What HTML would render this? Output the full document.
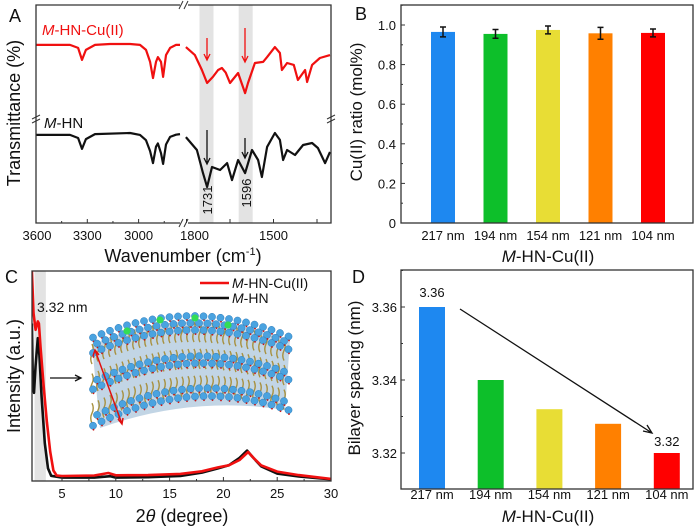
<!DOCTYPE html>
<html><head><meta charset="utf-8"><style>
html,body{margin:0;padding:0;background:#fff}
svg{display:block;font-family:"Liberation Sans",Arial,sans-serif}
</style></head><body>
<svg id="fig" width="700" height="532" viewBox="0 0 700 532" xmlns="http://www.w3.org/2000/svg">
<g id="pa"></g>
<g id="pb"></g>
<g id="pc"></g>
<g id="pd"></g>
</svg>
<script>
// ---------- Panel A data ----------
const redLeftW=[3600,3401,3354,3331,3308,3255,3167,3050,2992,2957,2933,2916,2898,2887,2869,2857,2840,2816,2781,2758];
const redLeftT=[81.7,81.7,80.3,74.8,79.4,81.7,82.1,82.1,81.7,79.4,73.9,66.5,73.9,76.1,73.9,67,77,80.3,81.7,81.7];
const redRightW=[1802,1771,1747,1729,1709,1691,1678,1665,1650,1622,1598,1588,1564,1536,1522,1495,1478,1471,1453,1430,1416,1391,1384,1367,1340,1305];
const redRightT=[80.7,77,70.2,64.2,67,70.2,71.1,69,64.2,68.8,59.6,64.2,73.4,73.9,76.1,80.7,78,70.2,73.4,72.5,65.6,70.2,64.7,72.5,75.7,77];
const blackLeftW=[3600,3401,3354,3331,3308,3255,3050,2992,2957,2933,2916,2898,2887,2869,2857,2840,2816,2781,2758];
const blackLeftT=[40.4,40.4,39,34,38.5,40.8,41.3,40.4,38,33,27.5,35,36.5,32,27.1,36,39.5,40.5,40.8];
const blackRightW=[1802,1764,1743,1729,1712,1684,1660,1643,1622,1598,1574,1553,1540,1522,1495,1478,1467,1453,1426,1398,1367,1347,1322,1305];
const blackRightT=[39.4,33.5,22.9,16.5,25.7,24.3,27.5,19.7,28.9,22.9,33.5,28.9,21.1,34.9,41.3,38.1,28.9,33.5,31.2,35.8,36.7,34.4,27.5,32.6];
const ftirLeftTicks=[3600,3300,3000];
const ftirRightTicks=[1800,1500];
// ---------- Panel B data ----------
const bCats=["217 nm","194 nm","154 nm","121 nm","104 nm"];
const bVals=[0.965,0.955,0.975,0.958,0.96];
const bErr=[0.025,0.022,0.02,0.03,0.02];
const bTicks=[0,0.2,0.4,0.6,0.8,1.0];
const bTickLabels=["0","0.2","0.4","0.6","0.8","1.0"];
// ---------- Panel C data ----------
const redXrdX=[2.2,2.35,2.55,2.75,2.85,3.0,3.3,3.6,3.9,4.2,4.5,5,8,9.3,10,13,16,18,19.5,20.5,21.5,22.3,22.8,23.5,25,27,30];
const redXrdY=[100,80,72,76,75,64,45,28,14,5,2.6,2.4,2.6,3.8,2.7,2.8,3.4,4.6,6.5,7.5,10,13.8,11,7.5,4.5,2.8,1.0];
const blackXrdX=[2.2,2.3,2.4,2.55,2.75,2.9,3.1,3.4,3.7,4.0,5,8,9.5,10,13,16,18,19.5,20.5,21.5,22.2,22.7,23.5,25,27,30];
const blackXrdY=[75,45,42,55,68,60,40,18,6,2.5,1.6,1.6,2.3,1.6,1.8,2.4,4,6,7.5,11,14.5,11.5,7,3.5,2.2,0.8];
const cTicks=[5,10,15,20,25,30];
// ---------- Panel D data ----------
const dCats=["217 nm","194 nm","154 nm","121 nm","104 nm"];
const dVals=[3.36,3.34,3.332,3.328,3.32];
const dTicks=[3.32,3.34,3.36];
const dTickLabels=["3.32","3.34","3.36"];
const colors=["#1e88f0","#0dbf2a","#e8dd35","#ff8000","#ff0000"];

const NS="http://www.w3.org/2000/svg";
function mk(parent,tag,attrs,text){const e=document.createElementNS(NS,tag);for(const k in attrs)e.setAttribute(k,attrs[k]);if(text!==undefined)e.textContent=text;parent.appendChild(e);return e;}
function txt(p,x,y,s,size,anchor,name,extra){const e=mk(p,'text',Object.assign({x:x,y:y,'font-size':size,'text-anchor':anchor||'middle',fill:'#111'},extra||{}),s);


return e;}
function italM(p,x,y,rest,size,anchor,name,fill){const e=mk(p,'text',{x:x,y:y,'font-size':size,'text-anchor':anchor||'start',fill:fill||'#111'});
mk(e,'tspan',{'font-style':'italic'},'M');mk(e,'tspan',{},rest);


return e;}

// ===== Panel A =====
(function(){
const g=document.getElementById('pa');
const L0=36,Lb=182,R0=186,R1=331,T=5,B=223;
const xl=w=>36+(3600-w)*0.171;
const xr=w=>186.5+(1800-w)*0.29;
const y=t=>B-t*2.18;
[[1731,'band-1731'],[1596,'band-1596']].forEach(([w,n])=>{const r=mk(g,'rect',{x:xr(w)-7,y:T,width:14,height:B-T,fill:'#e3e3e3'});

});
function line(W,Tv,xf,col,name){const d=W.map((w,i)=>(i?'L':'M')+xf(w).toFixed(1)+','+y(Tv[i]).toFixed(1)).join(' ');
const p=mk(g,'path',{d:d,fill:'none',stroke:col,'stroke-width':2.2,'stroke-linejoin':'round'});

}
line(redLeftW,redLeftT,xl,'#f01010','red-line-left');
line(redRightW,redRightT,xr,'#f01010','red-line-right');
line(blackLeftW,blackLeftT,xl,'#111','black-line-left');
line(blackRightW,blackRightT,xr,'#111','black-line-right');
mk(g,'path',{d:`M${Lb-2},${T} H${L0} V${B} H${Lb-2} M${R0+2},${T} H${R1} V${B} H${R0+2}`,fill:'none',stroke:'#333','stroke-width':1.3});
mk(g,'path',{d:`M${Lb-3},${T+4} L${Lb+1},${T-4} M${Lb+2},${T+4} L${Lb+6},${T-4} M${Lb-3},${B+4} L${Lb+1},${B-4} M${Lb+2},${B+4} L${Lb+6},${B-4}`,stroke:'#333','stroke-width':1});
mk(g,'path',{d:`M${L0-4},${119} L${L0+4},${115} M${L0-4},${123} L${L0+4},${119} M${R1-4},${119} L${R1+4},${115} M${R1-4},${123} L${R1+4},${119}`,stroke:'#333','stroke-width':1});
for(let w=3600;w>=2800;w-=150){mk(g,'line',{x1:xl(w),x2:xl(w),y1:B,y2:B-(w%300===0?4:2),stroke:'#333'});}
for(let w=1800;w>=1300;w-=150){mk(g,'line',{x1:xr(w),x2:xr(w),y1:B,y2:B-4,stroke:'#333'});}
ftirLeftTicks.forEach(w=>txt(g,xl(w)+(w===3600?1:0),240,w,13,'middle','x-tick-'+w));
ftirRightTicks.forEach(w=>txt(g,xr(w)+8*(w===1800?1:0),240,w,13,'middle','x-tick-'+w));
const xt=mk(g,'text',{x:183,y:262,'font-size':18,'text-anchor':'middle',fill:'#111'});mk(xt,'tspan',{},'Wavenumber (cm');mk(xt,'tspan',{'font-size':11,dy:-7},'-1');mk(xt,'tspan',{dy:7},')');


txt(g,0,0,'Transmittance (%)',18,'middle','y-axis-title',{transform:'translate(20,113) rotate(-90)'});
txt(g,9,22,'A',18,'start','panel-label-a');
italM(g,42,35,'-HN-Cu(II)',15,'start','label-m-hn-cu','#f01010');
italM(g,44,128,'-HN',15,'start','label-m-hn');
function arrow(x,y1,y2,col,name){const a=mk(g,'path',{d:`M${x},${y1} V${y2} M${x-3},${y2-6} L${x},${y2} L${x+3},${y2-6}`,stroke:col,fill:'none','stroke-width':1.3});

}
arrow(207,38,60,'#f01010','red-arrow-1731');arrow(245,28,62,'#f01010','red-arrow-1596');
arrow(207,130,164,'#111','black-arrow-1731');arrow(245,138,158,'#111','black-arrow-1596');
txt(g,0,0,'1731',13,'middle','label-1731',{transform:'translate(212,200) rotate(-90)'});
txt(g,0,0,'1596',13,'middle','label-1596',{transform:'translate(251,193) rotate(-90)'});
})();

// ===== Panel B =====
(function(){
const g=document.getElementById('pb');
const L=401,R=693,T=5,B=223;
const y=v=>B-v*198;
const bw=24,x0=443,dx=52.5;
bVals.forEach((v,i)=>{const cx=x0+i*dx;
const r=mk(g,'rect',{x:cx-bw/2,y:y(v),width:bw,height:B-y(v),fill:colors[i]});


const e=mk(g,'path',{d:`M${cx},${y(v+bErr[i])} V${y(v-bErr[i])} M${cx-3},${y(v+bErr[i])} H${cx+3} M${cx-3},${y(v-bErr[i])} H${cx+3}`,stroke:'#111','stroke-width':1.5});


txt(g,cx,240,bCats[i],13,'middle','x-tick-'+i);});
mk(g,'rect',{x:L,y:T,width:R-L,height:B-T,fill:'none',stroke:'#333','stroke-width':1.3});
bTicks.forEach((v,i)=>{mk(g,'line',{x1:L,x2:L+4,y1:y(v),y2:y(v),stroke:'#333'});mk(g,'line',{x1:L,x2:L+2,y1:y(v+0.1),y2:y(v+0.1),stroke:'#333'});
txt(g,396,y(v)+5,bTickLabels[i],13,'end','y-tick-'+i);});
italM(g,548,262,'-HN-Cu(II)',17,'middle','x-axis-title');
txt(g,0,0,'Cu(II) ratio (mol%)',17,'middle','y-axis-title',{transform:'translate(362,112) rotate(-90)'});
txt(g,355,20,'B',18,'start','panel-label-b');
})();

// ===== Panel C =====
(function(){
const g=document.getElementById('pc');
const L=32,R=331,T=271,B=481;
const x=v=>8.2+v*10.76;
const y=I=>B-I*2.1;
mk(g,'rect',{x:x(2.45),y:T,width:x(3.5)-x(2.45),height:B-T,fill:'#e3e3e3'});
mk(g,'clipPath',{id:'cclip'});
mk(g.lastChild,'rect',{x:L,y:T,width:R-L,height:B-T});
function line(X,Y,col,name){const d=X.map((v,i)=>(i?'L':'M')+x(v).toFixed(1)+','+y(Y[i]).toFixed(1)).join(' ');
const p=mk(g,'path',{d:d,fill:'none',stroke:col,'stroke-width':2.6,'clip-path':'url(#cclip)','stroke-linejoin':'round'});

}
line(blackXrdX,blackXrdY,'#111','m-hn-line');
line(redXrdX,redXrdY,'#f01010','m-hn-cu-line');
mk(g,'rect',{x:L,y:T,width:R-L,height:B-T,fill:'none',stroke:'#333','stroke-width':1.3});
for(let v=5;v<=30;v+=2.5){mk(g,'line',{x1:x(v),x2:x(v),y1:B,y2:B-(v%5===0?4:2),stroke:'#333'});}
cTicks.forEach(v=>txt(g,x(v),498,v,13,'middle','x-tick-'+v));
const xt=mk(g,'text',{x:182,y:522,'font-size':18,'text-anchor':'middle',fill:'#111'});mk(xt,'tspan',{},'2');mk(xt,'tspan',{'font-style':'italic'},'θ');mk(xt,'tspan',{},' (degree)');


txt(g,0,0,'Intensity (a.u.)',18,'middle','y-axis-title',{transform:'translate(20,376) rotate(-90)'});
txt(g,5,283,'C',18,'start','panel-label-c');
txt(g,37,312,'3.32 nm',14,'start','annotation-3-32nm');
const lg=mk(g,'g',{});


mk(lg,'line',{x1:200,x2:229,y1:283,y2:283,stroke:'#f01010','stroke-width':2.5});
italM(lg,232,288,'-HN-Cu(II)',14,'start','legend-entry-m-hn-cu');
mk(lg,'line',{x1:200,x2:229,y1:298,y2:298,stroke:'#111','stroke-width':2.5});
italM(lg,232,303,'-HN',14,'start','legend-entry-m-hn');
mk(g,'path',{d:'M50,378 H81 M75,375 L81,378 L75,381',stroke:'#111',fill:'none','stroke-width':1.3});
// inset bilayer illustration
const ins=mk(g,'g',{});


const topY=c=>316+Math.pow((c-192)/100,2)*22;
const botY=c=>topY(c)+95-(c-90)*0.08;
// background body
mk(ins,'path',{d:'M92,345 Q192,300 290,340 L285,410 Q192,395 100,428 Z',fill:'#4f87b4',opacity:0.35});
// tails
for(let cx=92;cx<=288;cx+=6){
  const t=topY(cx),b=botY(cx);
  for(let k=0;k<3;k++){
    const y0=t+6+k*((b-t-6)/3);
    mk(ins,'path',{d:`M${cx},${y0} q2.5,5 0,10 q-2.5,5 0,10`,stroke:'#a8913f',fill:'none','stroke-width':1.4});
  }
}
// spheres (several leaflets)
const leaf=[0,7,14,40,47,72,80];
leaf.forEach((off,li)=>{
  for(let cx=93+(li%2)*4;cx<=289;cx+=8.5){
    const ty=topY(cx)+off*(botY(cx)-topY(cx))/86;
    mk(ins,'circle',{cx:cx,cy:ty,r:3.6,fill:'#4aa3e0',stroke:'#2f7dbb','stroke-width':0.5});
    mk(ins,'circle',{cx:cx+0.5,cy:ty+4,r:0.9,fill:'#c81818'});
  }
});
[[127,331],[160,320],[195,318],[228,325]].forEach(([a,b])=>mk(ins,'circle',{cx:a,cy:b,r:3.6,fill:'#33dd55'}));
mk(ins,'path',{d:'M95,350 L122,424 M93,356 L95,350 L99,355 M118,419 L122,424 L123,418',stroke:'#e01010',fill:'none','stroke-width':1.5});
})();

// ===== Panel D =====
(function(){
const g=document.getElementById('pd');
const L=401,R=693,T=270,B=489;
const y=v=>307+(3.36-v)*3650;
const bw=26,x0=432,dx=58.7;
dVals.forEach((v,i)=>{const cx=x0+i*dx;
const r=mk(g,'rect',{x:cx-bw/2,y:y(v),width:bw,height:B-y(v),fill:colors[i]});


txt(g,cx,499,dCats[i],13,'middle','x-tick-'+i);});
txt(g,x0,297,dVals[0].toFixed(2),13,'middle','value-label-first');
txt(g,x0+4*dx,446,dVals[4].toFixed(2),13,'middle','value-label-last');
mk(g,'rect',{x:L,y:T,width:R-L,height:B-T,fill:'none',stroke:'#333','stroke-width':1.3});
dTicks.forEach((v,i)=>{mk(g,'line',{x1:L,x2:L+4,y1:y(v),y2:y(v),stroke:'#333'});mk(g,'line',{x1:L,x2:L+2,y1:y(v+0.01),y2:y(v+0.01),stroke:'#333'});
txt(g,397,y(v)+5,dTickLabels[i],13,'end','y-tick-'+i);});
const ar=mk(g,'path',{d:'M460,309 L652,433 M643,431 L652,433 L647,425',stroke:'#111',fill:'none','stroke-width':1.3});


italM(g,548,522,'-HN-Cu(II)',17,'middle','x-axis-title');
txt(g,0,0,'Bilayer spacing (nm)',17,'middle','y-axis-title',{transform:'translate(360,378) rotate(-90)'});
txt(g,352,283,'D',18,'start','panel-label-d');
})();
</script>
</body></html>
